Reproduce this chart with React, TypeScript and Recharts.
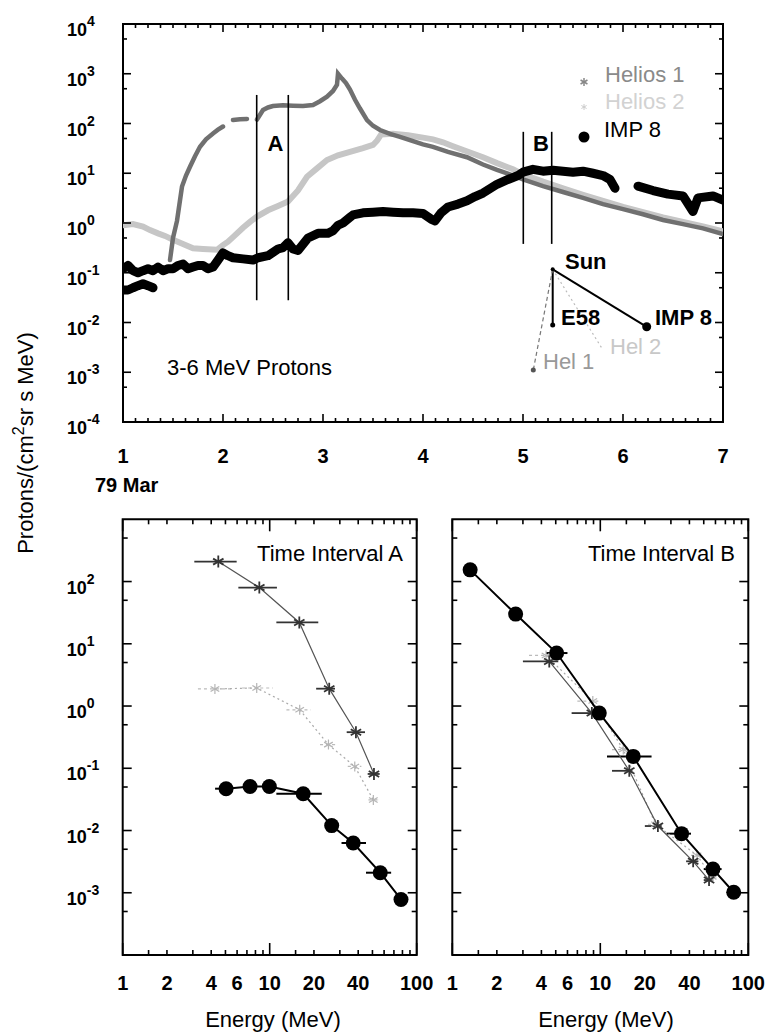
import React from 'react'
import {
  ComposedChart,
  Line,
  Scatter,
  XAxis,
  YAxis,
  ReferenceLine,
  ReferenceDot,
  ReferenceArea,
  ErrorBar,
} from 'recharts'

const FONT = '"Liberation Sans", Arial, Helvetica, sans-serif'

// ---- top panel: 3-6 MeV proton intensity, March 1979 (day, flux) ----
const helios1: [number, number | null][] = [
  [1.47, 0.18], [1.5, 0.5], [1.54, 1.1], [1.59, 5.4], [1.63, 9], [1.67, 13.5], [1.72, 22], [1.77, 34],
  [1.83, 48], [1.9, 63], [1.95, 75], [2.0, 87], [2.03, null], [2.1, 118], [2.17, 122], [2.24, 123],
  [2.28, null], [2.34, 120], [2.37, 150], [2.4, 187], [2.45, 210], [2.5, 224], [2.6, 232], [2.7, 228],
  [2.8, 225], [2.9, 235], [2.97, 280], [3.04, 346], [3.1, 450], [3.14, 600], [3.15, 1000], [3.19, 800],
  [3.23, 650], [3.27, 480], [3.32, 300], [3.37, 200], [3.44, 117], [3.5, 90], [3.57, 74], [3.67, 62],
  [3.77, 54], [3.9, 44], [4.0, 38], [4.1, 34], [4.25, 27], [4.44, 21], [4.6, 15], [4.74, 11.7],
  [4.9, 9], [5.0, 7.5], [5.2, 5.5], [5.4, 4.2], [5.6, 3.2], [5.8, 2.4], [6.0, 1.9], [6.2, 1.5],
  [6.4, 1.15], [6.6, 0.95], [6.8, 0.78], [7.0, 0.6],
]

const helios2: [number, number][] = [
  [1.0, 0.9], [1.1, 0.95], [1.2, 0.85], [1.27, 0.72], [1.35, 0.62], [1.42, 0.55], [1.5, 0.46], [1.6, 0.38],
  [1.7, 0.31], [1.8, 0.3], [1.94, 0.29], [2.0, 0.36], [2.05, 0.42], [2.1, 0.52], [2.2, 0.8], [2.27, 1.05],
  [2.34, 1.35], [2.45, 1.8], [2.55, 2.2], [2.65, 2.7], [2.75, 4.5], [2.84, 8.5], [2.94, 12.5], [3.04, 18.5],
  [3.15, 23], [3.27, 27], [3.4, 32], [3.5, 37], [3.54, 45], [3.58, 60], [3.7, 62], [3.85, 58],
  [4.0, 52], [4.1, 48], [4.2, 42], [4.3, 35], [4.45, 27], [4.6, 21], [4.74, 16], [4.9, 12],
  [5.0, 9.5], [5.2, 6.8], [5.4, 5.0], [5.6, 3.7], [5.8, 2.8], [6.0, 2.1], [6.2, 1.65], [6.4, 1.3],
  [6.6, 1.05], [6.8, 0.85], [7.0, 0.68],
]

const imp8: [number, number | null][] = [
  [1.0, 0.12], [1.05, 0.14], [1.1, 0.11], [1.15, 0.1], [1.2, 0.11], [1.25, 0.12], [1.3, 0.11], [1.35, 0.13],
  [1.4, 0.11], [1.45, 0.12], [1.5, 0.12], [1.55, 0.14], [1.6, 0.15], [1.65, 0.12], [1.7, 0.13], [1.75, 0.14],
  [1.8, 0.14], [1.85, 0.12], [1.9, 0.13], [1.95, 0.18], [2.0, 0.25], [2.05, 0.22], [2.1, 0.2], [2.2, 0.19],
  [2.3, 0.18], [2.35, 0.2], [2.45, 0.22], [2.55, 0.3], [2.6, 0.32], [2.65, 0.4], [2.7, 0.3], [2.75, 0.28],
  [2.85, 0.5], [2.95, 0.62], [3.05, 0.62], [3.1, 0.7], [3.15, 0.9], [3.2, 1.0], [3.27, 1.3], [3.3, 1.45],
  [3.4, 1.6], [3.5, 1.65], [3.6, 1.7], [3.7, 1.65], [3.8, 1.6], [3.9, 1.6], [4.0, 1.55], [4.08, 1.2],
  [4.12, 1.1], [4.18, 1.6], [4.25, 2.1], [4.35, 2.4], [4.44, 2.8], [4.52, 3.4], [4.6, 4.0], [4.74, 6.0],
  [4.85, 7.5], [4.95, 9], [5.0, 10.5], [5.1, 12], [5.2, 11], [5.3, 11.5], [5.4, 11], [5.5, 10.5],
  [5.6, 11], [5.7, 10], [5.8, 9], [5.87, 7.5], [5.92, 5], [5.95, null], [6.15, 5.5], [6.3, 4.5],
  [6.45, 3.8], [6.6, 3.5], [6.7, 1.7], [6.75, 3.2], [6.9, 3.5], [7.0, 2.9],
]

// second, lower IMP 8 trace at the start of the day
const imp8Low: [number, number][] = [
  [1.0, 0.045], [1.05, 0.045], [1.1, 0.05], [1.15, 0.055], [1.2, 0.06], [1.25, 0.055], [1.3, 0.05],
]

const dayLabels = [1, 2, 3, 4, 5, 6, 7]
const fluxDecades = [-4, -3, -2, -1, 0, 1, 2, 3, 4]

// time intervals A and B (day) and the span of their marker lines (flux)
const intervalA = [2.337, 2.653]
const intervalASpan = [0.028, 375]
const intervalB = [5.003, 5.287]
const intervalBSpan = [0.38, 68]

// spacecraft sketch: Sun and observers
const sunPos = { d: 5.297, v: 0.117 }
const craft = [
  { name: 'E58', d: 5.297, v: 0.0089 },
  { name: 'IMP 8', d: 6.237, v: 0.0082 },
  { name: 'Hel 1', d: 5.103, v: 0.00111 },
  { name: 'Hel 2', d: 5.8, v: 0.0028 },
]

// ---- bottom panels: spectra (energy MeV, flux, channel lo, channel hi) ----
const helios1A = [
  [4.47, 209, 3.07, 5.96], [8.5, 80, 6.12, 11.2], [15.9, 22, 11.1, 21.4],
  [25.4, 1.9, 20.7, 27.8], [38.6, 0.38, 33.4, 44.5], [51.2, 0.081, 46.4, 56],
]
const helios2A = [
  [4.24, 1.88, 3.25, 5.64], [8.16, 1.95, 6.5, 10.5], [16.0, 0.87, 13, 19],
  [25.1, 0.24, 22, 28], [37.9, 0.107, 34, 42], [50.7, 0.031, 47, 55],
]
const imp8A = [
  [5.05, 0.047, 4.25, 5.05], [7.35, 0.051, 7.35, 7.35], [9.94, 0.051, 9.94, 9.94],
  [16.9, 0.039, 11.1, 22.6], [26.4, 0.012, 26.4, 26.4], [37, 0.0063, 30.8, 45.2],
  [56.5, 0.0021, 45.2, 67], [78.2, 0.00078, 78.2, 78.2],
]
const helios1B = [
  [4.52, 5.2, 3.0, 5.2], [8.77, 0.77, 6.4, 9.5], [15.7, 0.091, 12, 16.5],
  [24.5, 0.0118, 20, 26], [42.4, 0.0032, 38, 46], [54.3, 0.0016, 50, 58],
]
const helios2B = [
  [4.3, 6.5, 3.3, 5.5], [8.9, 1.2, 7, 10], [14.3, 0.2, 12, 16],
  [23.6, 0.0126, 21, 26], [45, 0.004, 41, 49], [57, 0.0018, 53, 61],
]
const imp8B = [
  [1.32, 154, 1.32, 1.32], [2.68, 30, 2.68, 2.68], [5.07, 7.1, 4.3, 6.0],
  [9.84, 0.77, 9.84, 9.84], [16.7, 0.155, 11.1, 22.2], [35.4, 0.0089, 28, 41],
  [57.7, 0.0024, 50, 66], [79.7, 0.00102, 79.7, 79.7],
]

const energyLabels = [1, 2, 4, 6, 10, 20, 40, 100]
const energyMinor = [1.5, 2, 3, 4, 5, 6, 7, 8, 9, 15, 20, 30, 40, 50, 60, 70, 80, 90]
const spectrumDecades = [-3, -2, -1, 0, 1, 2]

// ---- helpers ----
const toPts = (arr: [number, number | null][]) => arr.map(([d, v]) => ({ d, v }))
const toSpec = (arr: number[][]) =>
  arr.map(([e, v, lo, hi]) => ({ e, v, ex: [e - lo, hi - e] }))

const TOP_W = 600
const TOP_H = 398
const BOT_W_L = 294
const BOT_W_R = 296
const BOT_H = 435.7

function isDecade(v: number) {
  const lg = Math.log10(v)
  return Math.abs(lg - Math.round(lg)) < 1e-6
}

function makeLogYTick(plotW: number, labelled: number[], majLen: number, minLen: number) {
  return (props: any) => {
    const { x, y, payload } = props
    const v = payload.value as number
    const major = isDecade(v)
    const exp = Math.round(Math.log10(v))
    const len = major ? majLen : minLen
    return (
      <g>
        <line x1={x} x2={x + len} y1={y} y2={y} stroke="#000" strokeWidth={1.6} />
        <line x1={x + plotW} x2={x + plotW - len} y1={y} y2={y} stroke="#000" strokeWidth={1.6} />
        {major && labelled.includes(exp) && (
          <text x={x - 56} y={y + 12} fontSize={18} fontWeight="bold" fontFamily={FONT} fill="#000">
            10
            <tspan dy={-10} fontSize={14}>{exp}</tspan>
          </text>
        )}
      </g>
    )
  }
}

function TimeTick(props: any) {
  const { x, y, payload } = props
  const v = payload.value as number
  const major = Number.isInteger(v)
  const len = major ? 8 : 4
  return (
    <g>
      <line x1={x} x2={x} y1={y} y2={y - len} stroke="#000" strokeWidth={1.6} />
      <line x1={x} x2={x} y1={y - TOP_H} y2={y - TOP_H + len} stroke="#000" strokeWidth={1.6} />
      {major && dayLabels.includes(v) && (
        <text x={x} y={y + 41} textAnchor="middle" fontSize={20} fontWeight="bold" fontFamily={FONT}>
          {v}
        </text>
      )}
    </g>
  )
}

function makeEnergyTick(plotH: number) {
  return (props: any) => {
    const { x, y, payload } = props
    const v = payload.value as number
    const major = isDecade(v)
    const len = major ? 12 : 5
    return (
      <g>
        <line x1={x} x2={x} y1={y} y2={y - len} stroke="#000" strokeWidth={1.6} />
        <line x1={x} x2={x} y1={y - plotH} y2={y - plotH + len} stroke="#000" strokeWidth={1.6} />
        {energyLabels.includes(v) && (
          <text x={x} y={y + 35} textAnchor="middle" fontSize={20} fontWeight="bold" fontFamily={FONT}>
            {v}
          </text>
        )}
      </g>
    )
  }
}

function Asterisk({ cx, cy, r, color, w }: { cx: number; cy: number; r: number; color: string; w: number }) {
  return (
    <g stroke={color} strokeWidth={w}>
      {[90, 30, 150].map((a) => {
        const rad = (a * Math.PI) / 180
        return (
          <line
            key={a}
            x1={cx - r * Math.cos(rad)}
            y1={cy - r * Math.sin(rad)}
            x2={cx + r * Math.cos(rad)}
            y2={cy + r * Math.sin(rad)}
          />
        )
      })}
    </g>
  )
}

const h1Shape = (p: any) => <Asterisk cx={p.cx} cy={p.cy} r={6} color="#333" w={1.8} />
const h2Shape = (p: any) => <Asterisk cx={p.cx} cy={p.cy} r={5} color="#b5b5b5" w={1.2} />
const impShape = (p: any) => <circle cx={p.cx} cy={p.cy} r={7.5} fill="#000" />

function Txt({ x, y, children, size = 22, weight = 'normal', color = '#000', anchor = 'start' }: any) {
  const tx = anchor === 'middle' ? 'translate(-50%,-50%)' : anchor === 'end' ? 'translate(-100%,-50%)' : 'translate(0,-50%)'
  return (
    <div
      style={{
        position: 'absolute',
        left: x,
        top: y,
        transform: tx,
        fontSize: size,
        fontWeight: weight,
        color,
        whiteSpace: 'nowrap',
        lineHeight: 1,
        fontFamily: FONT,
      }}
    >
      {children}
    </div>
  )
}

function SpectrumPanel({
  width,
  margin,
  plotW,
  labelled,
  yAxisWidth,
  h1,
  h2,
  imp,
}: any) {
  return (
    <ComposedChart width={width} height={534} margin={margin}>
      <XAxis
        dataKey="e"
        type="number"
        scale="log"
        domain={[1, 100]}
        allowDataOverflow
        ticks={[1, ...energyMinor, 10, 100].sort((a, b) => a - b)}
        interval={0}
        tickSize={0}
        tickMargin={0}
        axisLine={false}
        tickLine={false}
        height={30}
        tick={makeEnergyTick(BOT_H)}
      />
      <YAxis
        dataKey="v"
        type="number"
        scale="log"
        domain={[1e-4, 1e3]}
        allowDataOverflow
        ticks={spectrumDecades
          .flatMap((k) => [Math.pow(10, k), 5 * Math.pow(10, k)])
          .concat([5e-4])}
        interval={0}
        tickSize={0}
        tickMargin={0}
        axisLine={false}
        tickLine={false}
        width={yAxisWidth}
        tick={makeLogYTick(plotW, labelled, 9, 5)}
      />
      <ReferenceArea x1={1} x2={100} y1={1e-4} y2={1e3} fill="none" stroke="#000" strokeWidth={2} ifOverflow="visible" />
      <Scatter
        data={toSpec(h2)}
        shape={h2Shape}
        line={{ stroke: '#aaa', strokeWidth: 1.2, strokeDasharray: '2 3' }}
        lineType="joint"
        isAnimationActive={false}
      >
        <ErrorBar dataKey="ex" direction="x" width={0} stroke="#bbb" strokeWidth={1.2} strokeDasharray="3 3" />
      </Scatter>
      <Scatter
        data={toSpec(h1)}
        shape={h1Shape}
        line={{ stroke: '#555', strokeWidth: 1.2 }}
        lineType="joint"
        isAnimationActive={false}
      >
        <ErrorBar dataKey="ex" direction="x" width={0} stroke="#333" strokeWidth={1.8} />
      </Scatter>
      <Scatter
        data={toSpec(imp)}
        shape={impShape}
        line={{ stroke: '#000', strokeWidth: 2 }}
        lineType="joint"
        isAnimationActive={false}
      >
        <ErrorBar dataKey="ex" direction="x" width={0} stroke="#000" strokeWidth={2} />
      </Scatter>
    </ComposedChart>
  )
}

export default function App() {
  const dayTicks: number[] = []
  for (let k = 0; k <= 48; k++) dayTicks.push(1 + k * 0.125)
  const fluxTicks = fluxDecades.flatMap((k) => (k < 4 ? [Math.pow(10, k), 5 * Math.pow(10, k)] : [Math.pow(10, k)]))

  return (
    <div style={{ position: 'absolute', left: 0, top: 0, width: 769, height: 1034, background: '#fff', fontFamily: FONT }}>
      <div style={{ position: 'absolute', left: 0, top: 0 }}>
        <ComposedChart width={769} height={500} margin={{ top: 24, right: 46, bottom: 48, left: 63 }}>
          <XAxis
            dataKey="d"
            type="number"
            domain={[1, 7]}
            allowDataOverflow
            ticks={dayTicks}
            interval={0}
            tickSize={0}
            tickMargin={0}
            axisLine={false}
            tickLine={false}
            height={30}
            tick={TimeTick}
          />
          <YAxis
            dataKey="v"
            type="number"
            scale="log"
            domain={[1e-4, 1e4]}
            allowDataOverflow
            ticks={fluxTicks}
            interval={0}
            tickSize={0}
            tickMargin={0}
            axisLine={false}
            tickLine={false}
            width={60}
            tick={makeLogYTick(TOP_W, fluxDecades, 8, 4)}
          />
          <ReferenceArea x1={1} x2={7} y1={1e-4} y2={1e4} fill="none" stroke="#000" strokeWidth={2} ifOverflow="visible" />
          <Line data={toPts(helios2)} dataKey="v" type="linear" stroke="#c6c6c6" strokeWidth={6} dot={false} strokeLinecap="round" isAnimationActive={false} />
          <Line data={toPts(helios1)} dataKey="v" type="linear" stroke="#707070" strokeWidth={4.5} dot={false} strokeLinecap="round" isAnimationActive={false} />
          <Line data={toPts(imp8Low)} dataKey="v" type="linear" stroke="#000" strokeWidth={9} dot={false} strokeLinecap="round" strokeLinejoin="round" isAnimationActive={false} />
          <Line data={toPts(imp8)} dataKey="v" type="linear" stroke="#000" strokeWidth={9} dot={false} strokeLinecap="round" strokeLinejoin="round" isAnimationActive={false} />
          {[...intervalA, ...intervalB].map((d, i) => {
            const span = i < 2 ? intervalASpan : intervalBSpan
            return (
              <ReferenceLine
                key={`iv${i}`}
                segment={[{ x: d, y: span[0] }, { x: d, y: span[1] }]}
                stroke="#000"
                strokeWidth={1.6}
              />
            )
          })}
          {craft.map((c) => (
            <ReferenceLine
              key={`l-${c.name}`}
              segment={[{ x: sunPos.d, y: sunPos.v }, { x: c.d, y: c.v }]}
              stroke={c.name === 'Hel 1' ? '#777' : c.name === 'Hel 2' ? '#bbb' : '#000'}
              strokeWidth={c.name.startsWith('Hel') ? 1.2 : 2}
              strokeDasharray={c.name === 'Hel 1' ? '4 3' : c.name === 'Hel 2' ? '2 3' : undefined}
            />
          ))}
          {craft.map((c) => (
            <ReferenceDot
              key={`d-${c.name}`}
              x={c.d}
              y={c.v}
              r={c.name === 'IMP 8' ? 4.5 : c.name === 'Hel 2' ? 0 : 2.5}
              fill={c.name === 'Hel 1' ? '#555' : '#000'}
              stroke="none"
            />
          ))}
          <ReferenceDot x={sunPos.d} y={sunPos.v} r={2} fill="#000" stroke="none" />
        </ComposedChart>
      </div>

      <div style={{ position: 'absolute', left: 0, top: 500 }}>
        <SpectrumPanel
          width={440}
          margin={{ top: 19.3, right: 23.3, bottom: 49, left: 62.7 }}
          plotW={BOT_W_L}
          labelled={spectrumDecades}
          yAxisWidth={60}
          h1={helios1A}
          h2={helios2A}
          imp={imp8A}
        />
      </div>
      <div style={{ position: 'absolute', left: 440, top: 500 }}>
        <SpectrumPanel
          width={329}
          margin={{ top: 19.3, right: 20.7, bottom: 49, left: 2.3 }}
          plotW={BOT_W_R}
          labelled={[]}
          yAxisWidth={10}
          h1={helios1B}
          h2={helios2B}
          imp={imp8B}
        />
      </div>

      {/* shared y-axis title */}
      <div
        style={{
          position: 'absolute',
          left: 24,
          top: 443,
          transform: 'translate(-50%,-50%) rotate(-90deg)',
          fontSize: 22,
          whiteSpace: 'nowrap',
          lineHeight: 1,
          fontFamily: FONT,
        }}
      >
        Protons/(cm<span style={{ fontSize: 16, verticalAlign: 'super' }}>2</span>sr s MeV)
      </div>

      <Txt x={95} y={485} size={20} weight="bold">79 Mar</Txt>

      {/* legend */}
      <svg style={{ position: 'absolute', left: 575, top: 70 }} width={20} height={80}>
        <Asterisk cx={9} cy={12} r={4} color="#888" w={1.5} />
        <Asterisk cx={9} cy={37} r={3} color="#ccc" w={1} />
        <circle cx={9} cy={67} r={5.5} fill="#000" />
      </svg>
      <Txt x={605} y={75} color="#8a8a8a">Helios 1</Txt>
      <Txt x={605} y={102} color="#d2d2d2">Helios 2</Txt>
      <Txt x={604} y={130}>IMP 8</Txt>

      <Txt x={275.5} y={143.5} weight="bold" anchor="middle">A</Txt>
      <Txt x={541} y={143.5} weight="bold" anchor="middle">B</Txt>

      <Txt x={565} y={262} weight="bold">Sun</Txt>
      <Txt x={561} y={318} weight="bold">E58</Txt>
      <Txt x={655} y={318} weight="bold">IMP 8</Txt>
      <Txt x={543} y={362} color="#999">Hel 1</Txt>
      <Txt x={610} y={347} color="#c8c8c8">Hel 2</Txt>

      <Txt x={167} y={368}>3-6 MeV Protons</Txt>

      <Txt x={403} y={554} anchor="end">Time Interval A</Txt>
      <Txt x={735} y={554} anchor="end">Time Interval B</Txt>

      <Txt x={273} y={1020} anchor="middle">Energy (MeV)</Txt>
      <Txt x={606} y={1020} anchor="middle">Energy (MeV)</Txt>
    </div>
  )
}
